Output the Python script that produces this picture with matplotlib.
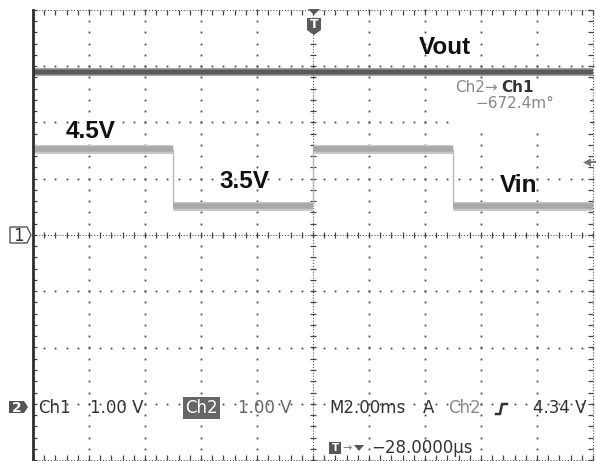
import numpy as np
import matplotlib
matplotlib.use("Agg")
import matplotlib.pyplot as plt
from matplotlib.patches import Polygon, Rectangle
from matplotlib.lines import Line2D

t_edges_ms = [-10, -5, 0, 5, 10]          # Vin step boundaries (ms), trigger at t = 0
vin_levels_v = [4.58, 3.57, 4.58, 3.57]   # Ch2 (Vin) level of each segment, volts
vout_level_v = 2.90                       # Ch1 (Vout) level, volts
ch1_volts_per_div = 1.0
ch2_volts_per_div = 1.0
ch1_offset_div = 0.0
ch2_offset_div = -3.05
time_per_div_ms = 2.0
trigger_level_v = 4.34

label_texts = ["Vout", "4.5V", "3.5V", "Vin"]

# ---------------- figure ----------------
W, H = 596, 461
fig = plt.figure(figsize=(W / 100, H / 100), dpi=100)
ax = fig.add_axes([33 / W, 1 - 460 / H, 560 / W, 450 / H])
ax.set_xlim(-5 * time_per_div_ms, 5 * time_per_div_ms)
ax.set_ylim(-4, 4)
ax.set_axis_off()


def P(px, py):
    return (px / W, 1 - py / H)


# graticule
xmin, xmax = ax.get_xlim()
major_x = np.arange(xmin, xmax + 1e-9, time_per_div_ms)
major_y = np.arange(-4, 4 + 1e-9, 1.0)
fine_x = np.arange(xmin, xmax + 1e-9, time_per_div_ms / 5)
fine_y = np.arange(-4, 4 + 1e-9, 0.2)
dot = dict(ls="none", marker="s", ms=1.3, mew=0, color="#4a4a4a", zorder=1, clip_on=False)
for x in major_x[1:-1]:
    if abs(x) < 1e-9:
        continue
    ax.plot(np.full_like(fine_y, x), fine_y, **dot)
for y in major_y[1:-1]:
    if abs(y) < 1e-9:
        continue
    ax.plot(fine_x, np.full_like(fine_x, y), **dot)

fine_ls = dict(ls=(0, (1, 1.6)), lw=0.8, color="#555555", zorder=1, clip_on=False)
tick = dict(ls="none", color="#444444", mew=0.9, zorder=1, clip_on=False)
# centre lines
ax.plot([xmin, xmax], [0, 0], **fine_ls)
ax.plot([0, 0], [-4, 4], **fine_ls)
ax.plot(fine_x, np.zeros_like(fine_x), marker="|", ms=5, **tick)
ax.plot(np.zeros_like(fine_y), fine_y, marker="_", ms=5, **tick)
# borders
ax.plot([xmin, xmax], [4, 4], **fine_ls)
ax.plot(fine_x, np.full_like(fine_x, 4), marker=3, ms=3.5, **tick)
ax.plot([xmin, xmax], [-4, -4], **fine_ls)
ax.plot(fine_x, np.full_like(fine_x, -4), marker=2, ms=3.5, **tick)
ax.plot([xmax, xmax], [-4, 4], **fine_ls)
ax.plot(np.full_like(fine_y, xmax), fine_y, marker=0, ms=3.5, **tick)
ax.plot([xmin, xmin], [-4, 4], color="#2e2e2e", lw=2.0, zorder=4, clip_on=False)
ax.plot(np.full_like(fine_y, xmin), fine_y, marker=1, ms=3, **tick)

# white block behind the measurement readout
ax.add_patch(Rectangle(P(452, 133), 138 / W, 53 / H, transform=fig.transFigure,
                       facecolor="white", edgecolor="none", zorder=1.5))

# ---------------- traces ----------------
vout_div = vout_level_v / ch1_volts_per_div + ch1_offset_div
ax.hlines(vout_div, t_edges_ms[0], t_edges_ms[-1], color="#8e8e8e", lw=5.5, zorder=3)
ax.hlines(vout_div, t_edges_ms[0], t_edges_ms[-1], color="#585858", lw=3.2, zorder=3.1)

vin_div = [v / ch2_volts_per_div + ch2_offset_div for v in vin_levels_v]
ax.vlines(t_edges_ms[1:-1], vin_div[:-1], vin_div[1:], color="#b8b8b8", lw=1.0, zorder=3)
ax.hlines(vin_div, t_edges_ms[:-1], t_edges_ms[1:], color="#c8c8c8", lw=6.5, zorder=3)
ax.hlines(vin_div, t_edges_ms[:-1], t_edges_ms[1:], color="#a8a8a8", lw=4.0, zorder=3.1)

# ---------------- annotations ----------------
big = dict(family="Liberation Sans", weight="bold", fontsize=17.5, color="#111111",
           ha="center", va="center", zorder=5)
for s, (px, py) in zip(label_texts, [(445, 47), (91, 131), (244, 181), (519, 186)]):
    fig.text(*P(px, py), s, **big)

fig.text(*P(455, 87), "Ch2\u2192", fontsize=11, color="#888888", ha="left", va="center")
fig.text(*P(501, 87), "Ch1", fontsize=11, color="#333333", weight="bold", ha="left", va="center")
fig.text(*P(475, 104), "\u2212672.4m\u00b0", fontsize=11, color="#888888", ha="left", va="center")

# trigger position marker (top)
fig.patches.append(Polygon([P(308, 9), P(320, 9), P(314, 15)], closed=True,
                           transform=fig.transFigure, facecolor="#5a5a5a", edgecolor="none"))
fig.patches.append(Polygon([P(307, 18), P(321, 18), P(321, 30), P(314, 35), P(307, 30)], closed=True,
                           transform=fig.transFigure, facecolor="#5a5a5a", edgecolor="none"))
fig.text(*P(314, 25), "T", fontsize=9, weight="bold", color="white", ha="center", va="center")

# trigger level marker (right)
trig_y = trigger_level_v / ch2_volts_per_div + ch2_offset_div
ypx = 460 - (trig_y + 4) * 450 / 8
fig.patches.append(Polygon([P(583, ypx), P(591, ypx - 4), P(591, ypx + 4)], closed=True,
                           transform=fig.transFigure, facecolor="#777777", edgecolor="none"))
fig.lines.append(Line2D([590 / W, 596 / W], [1 - ypx / H] * 2, transform=fig.transFigure,
                        color="#777777", lw=1.5))

# channel ground markers
fig.patches.append(Polygon([P(10, 227), P(27, 227), P(31, 235), P(27, 243), P(10, 243)], closed=True,
                           transform=fig.transFigure, facecolor="white", edgecolor="#555555", lw=1))
fig.text(*P(18, 235.5), "1", fontsize=12, color="#333333", ha="center", va="center")
fig.patches.append(Polygon([P(9, 401), P(24, 401), P(28, 407), P(24, 413), P(9, 413)], closed=True,
                           transform=fig.transFigure, facecolor="#555555", edgecolor="none"))
fig.text(*P(16.5, 407.5), "2", fontsize=10, weight="bold", color="white", ha="center", va="center")

# status line
st = dict(fontsize=12, ha="left", va="center", family="DejaVu Sans")
fig.text(*P(38, 408), "Ch1", color="#333333", **st)
fig.text(*P(90, 408), "1.00 V", color="#333333", **st)
fig.text(*P(185, 408), "Ch2", color="white",
         bbox=dict(boxstyle="square,pad=0.12", facecolor="#666666", edgecolor="none"), **st)
fig.text(*P(238, 408), "1.00 V", color="#666666", **st)
fig.text(*P(329, 408), "M2.00ms", color="#333333", **st)
fig.text(*P(423, 408), "A", color="#333333", **st)
fig.text(*P(448, 408), "Ch2", color="#8a8a8a", **st)
xs, ys = zip(P(496, 414), P(500, 414), P(502, 404), P(507, 404))
fig.lines.append(Line2D(xs, ys, transform=fig.transFigure, color="#333333", lw=1.8))
fig.text(*P(533, 408), "4.34 V", color="#333333", **st)

fig.patches.append(Rectangle(P(329, 454), 12 / W, 12 / H, transform=fig.transFigure,
                             facecolor="#555555", edgecolor="none"))
fig.text(*P(335, 448), "T", fontsize=7.5, weight="bold", color="white", ha="center", va="center")
fig.text(*P(342, 448), "\u2192", fontsize=8, color="#777777", ha="left", va="center")
fig.patches.append(Polygon([P(354, 445), P(364, 445), P(359, 451)], closed=True,
                           transform=fig.transFigure, facecolor="#555555", edgecolor="none"))
fig.text(*P(371, 448), "\u221228.0000\u00b5s", color="#333333", **st)

fig.savefig("out.png", dpi=100, facecolor="white")
